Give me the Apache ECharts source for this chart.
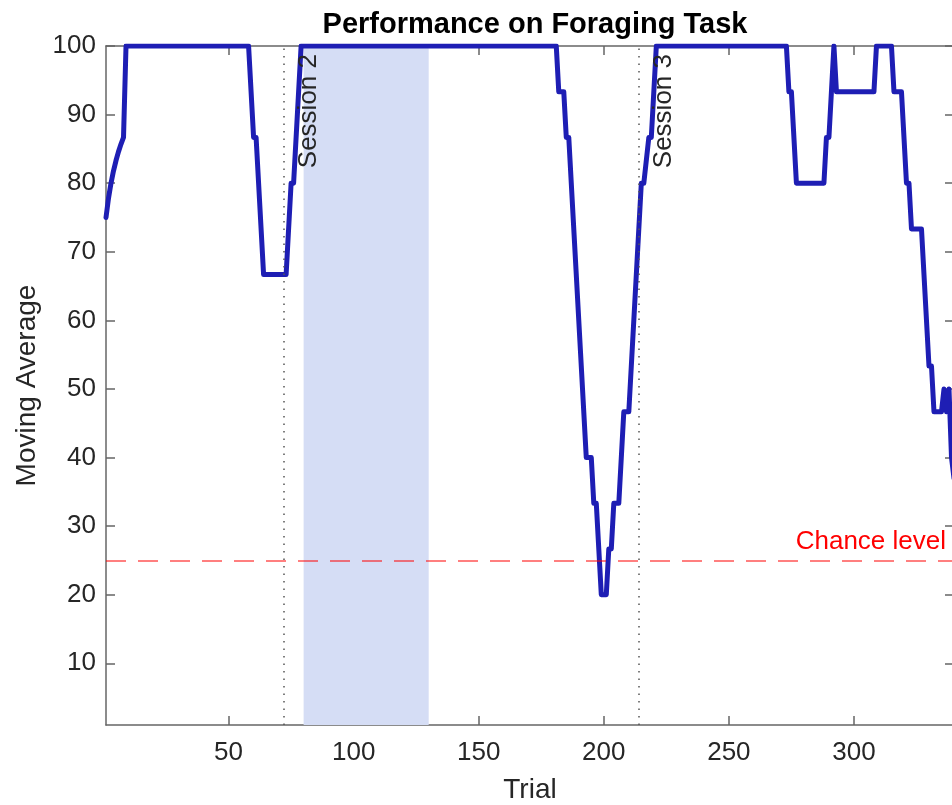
<!DOCTYPE html>
<html>
<head>
<meta charset="utf-8">
<script src="https://cdn.jsdelivr.net/npm/echarts@6/dist/echarts.min.js"></script>
<style>
  html, body { margin: 0; padding: 0; background: #fff; }
  #chart { width: 952px; height: 805px; }
</style>
</head>
<body>
<div id="chart"></div>
<script>
  // 试次 (breakpoints of the moving-average curve)
  var trials = [1, 2, 3, 4, 5, 6, 7, 8, 9,
    58, 60, 61, 64, 73, 75, 76, 79,
    181, 182, 184, 185, 186, 193, 195, 196, 197, 199, 201, 202, 203, 204, 206, 208, 210, 215, 216, 218, 219, 221,
    273, 274, 275, 277, 288, 289, 290, 292, 293, 308, 309, 315, 316, 319, 321, 322, 323, 327, 330, 331, 332, 335,
    336, 337, 338, 339, 340];
  var movingAvg = [75, 77.8, 80, 81.8, 83.3, 84.6, 85.7, 86.67, 100,
    100, 86.67, 86.67, 66.67, 66.67, 80, 80, 100,
    100, 93.33, 93.33, 86.67, 86.67, 40, 40, 33.33, 33.33, 20, 20, 26.67, 26.67, 33.33, 33.33, 46.67, 46.67, 80, 80, 86.67, 86.67, 100,
    100, 93.33, 93.33, 80, 80, 86.67, 86.67, 100, 93.33, 93.33, 100, 100, 93.33, 93.33, 80, 80, 73.33, 73.33, 53.33, 53.33, 46.67, 46.67,
    50, 46.67, 50, 40, 37];

  var sessionStarts = [72, 214];
  var sessionNames = ['Session 2', 'Session 3'];
  var shadedRange = [80, 130];
  var chanceLevel = 25;

  var xTicks = [50, 100, 150, 200, 250, 300];
  var yTicks = [10, 20, 30, 40, 50, 60, 70, 80, 90, 100];

  var lineData = [];
  for (var i = 0; i < trials.length; i++) {
    lineData.push([trials[i], movingAvg[i]]);
  }

  var font = '"Liberation Sans", Arial, Helvetica, sans-serif';
  var axisGray = '#666666';

  var sessionLines = [];
  for (var s = 0; s < sessionStarts.length; s++) {
    sessionLines.push({
      xAxis: sessionStarts[s],
      label: {
        show: true,
        formatter: sessionNames[s],
        position: 'insideEndBottom',
        distance: [8, 12],
        color: '#262626',
        fontSize: 26,
        fontFamily: font
      }
    });
  }

  var chart = echarts.init(document.getElementById('chart'));
  var option = {
    backgroundColor: '#ffffff',
    animation: false,
    title: {
      text: 'Performance on Foraging Task',
      left: 530,
      textAlign: 'center',
      top: 5,
      textStyle: { fontSize: 29, fontWeight: 'bold', color: '#000', fontFamily: font }
    },
    grid: { left: 106, right: -2, top: 46, bottom: 80, outerBoundsMode: 'none', containLabel: false },
    xAxis: [
      {
        type: 'value',
        min: 1,
        max: 340,
        position: 'bottom',
        name: 'Trial',
        nameLocation: 'middle',
        nameGap: 51,
        nameTextStyle: { fontSize: 28, color: '#262626', fontFamily: font },
        axisLine: { show: true, onZero: false, lineStyle: { color: axisGray, width: 1.5 } },
        axisTick: { show: true, inside: true, length: 9, customValues: xTicks, lineStyle: { color: axisGray, width: 1.5 } },
        axisLabel: { customValues: xTicks, fontSize: 26, color: '#262626', fontFamily: font, margin: 15 },
        splitLine: { show: false }
      },
      {
        type: 'value',
        min: 1,
        max: 340,
        position: 'top',
        axisLine: { show: true, onZero: false, lineStyle: { color: axisGray, width: 1.5 } },
        axisTick: { show: true, inside: true, length: 9, customValues: xTicks, lineStyle: { color: axisGray, width: 1.5 } },
        axisLabel: { show: false },
        splitLine: { show: false }
      }
    ],
    yAxis: [
      {
        type: 'value',
        min: 1,
        max: 100,
        position: 'left',
        name: 'Moving Average',
        nameLocation: 'middle',
        nameGap: 56,
        nameTextStyle: { fontSize: 28, color: '#262626', fontFamily: font },
        axisLine: { show: true, onZero: false, lineStyle: { color: axisGray, width: 1.5 } },
        axisTick: { show: true, inside: true, length: 9, customValues: yTicks, lineStyle: { color: axisGray, width: 1.5 } },
        axisLabel: { customValues: yTicks, fontSize: 26, color: '#262626', fontFamily: font, margin: 10 },
        splitLine: { show: false }
      },
      {
        type: 'value',
        min: 1,
        max: 100,
        position: 'right',
        axisLine: { show: true, onZero: false, lineStyle: { color: axisGray, width: 1.5 } },
        axisTick: { show: true, inside: true, length: 9, customValues: yTicks, lineStyle: { color: axisGray, width: 1.5 } },
        axisLabel: { show: false },
        splitLine: { show: false }
      }
    ],
    series: [
      {
        // 阴影区 + 会话分隔线
        type: 'line',
        data: [],
        z: 1,
        markArea: {
          silent: true,
          itemStyle: { color: '#d5ddf5' },
          data: [[{ xAxis: shadedRange[0] }, { xAxis: shadedRange[1] }]]
        },
        markLine: {
          silent: true,
          symbol: 'none',
          lineStyle: { color: '#555555', width: 1.5, type: [1.5, 6] },
          data: sessionLines
        }
      },
      {
        // 机会水平
        type: 'line',
        data: [],
        z: 2,
        markLine: {
          silent: true,
          symbol: 'none',
          lineStyle: { color: 'rgba(255,0,0,0.5)', width: 2, type: [20, 12] },
          label: {
            show: true,
            formatter: 'Chance level',
            position: 'insideEndTop',
            distance: [8, 6],
            color: '#ff0000',
            fontSize: 26,
            fontFamily: font
          },
          data: [{ yAxis: chanceLevel }]
        }
      },
      {
        name: 'Moving Average',
        type: 'line',
        data: lineData,
        z: 3,
        symbol: 'none',
        clip: true,
        lineStyle: { color: '#1e1eb4', width: 5, join: 'round', cap: 'round' }
      }
    ]
  };
  chart.setOption(option);
</script>
</body>
</html>
